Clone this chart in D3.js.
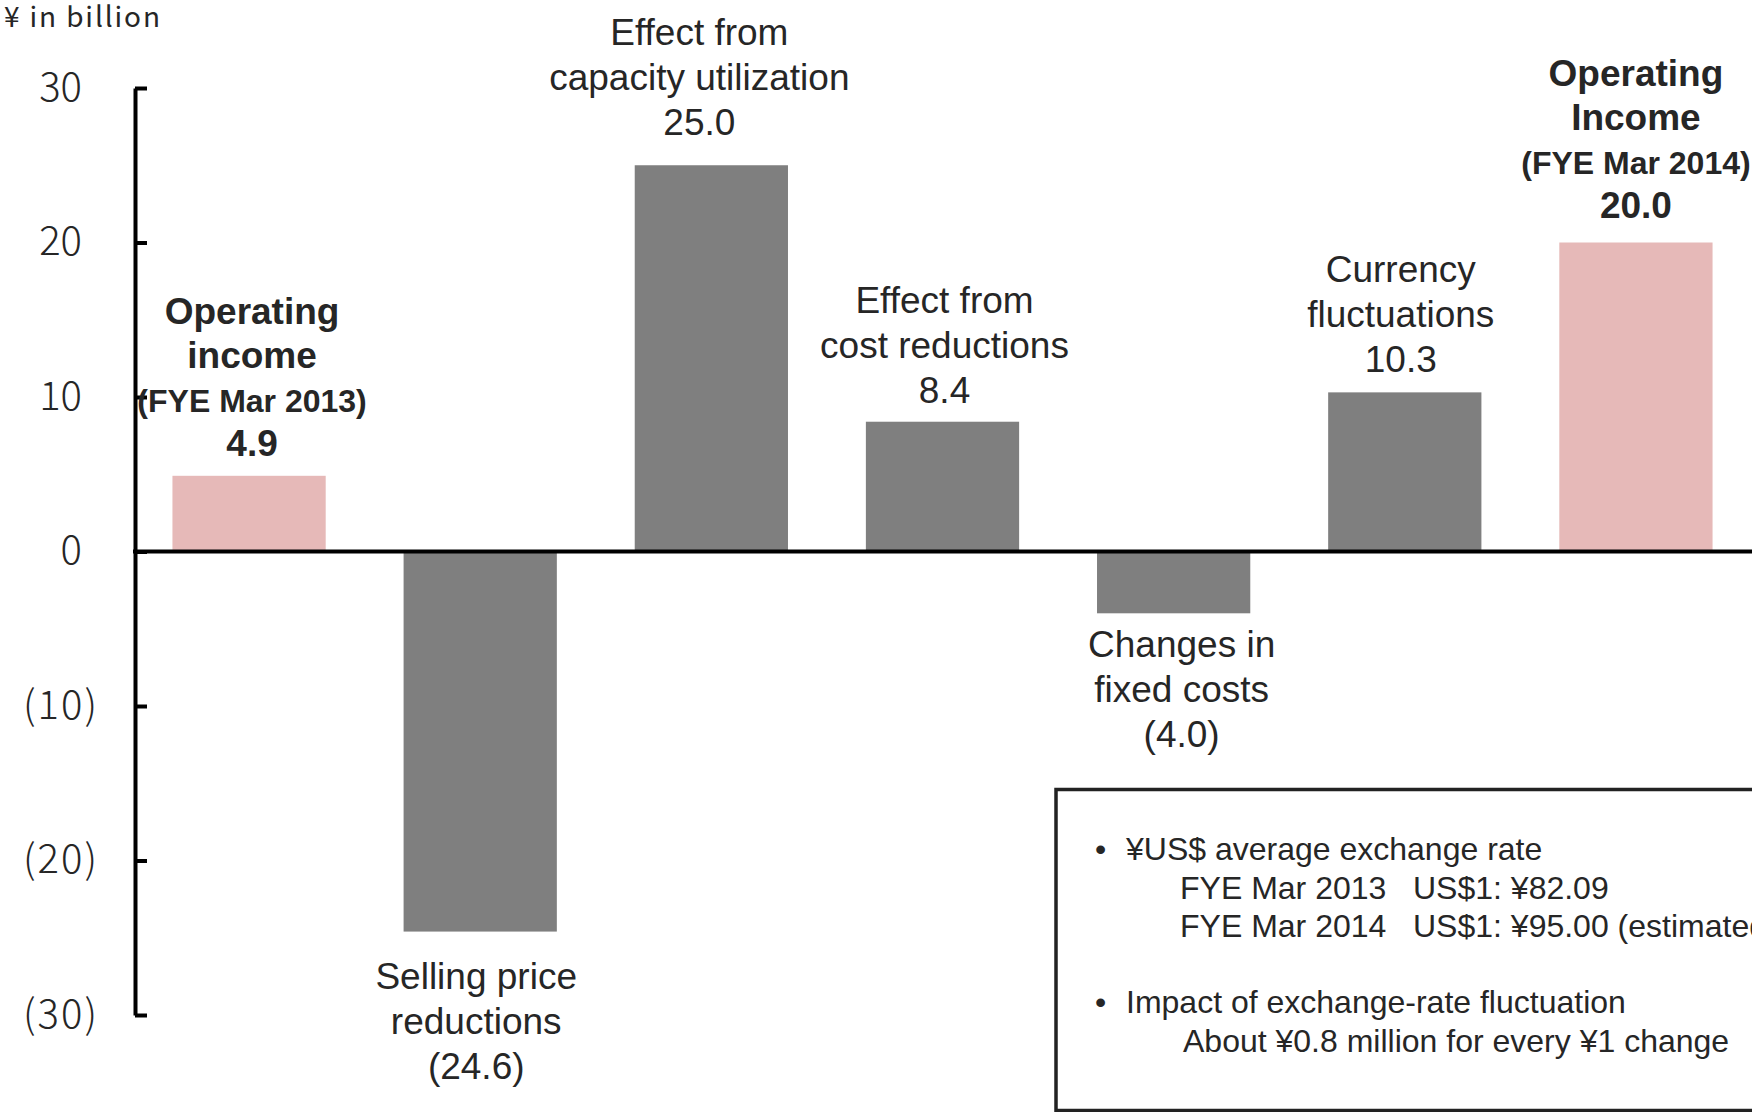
<!DOCTYPE html>
<html>
<head>
<meta charset="utf-8">
<script src="https://cdn.jsdelivr.net/npm/d3@7"></script>
<style>
  html, body { margin: 0; padding: 0; background: #fff; }
  svg { display: block; }
</style>
</head>
<body>
<div id="chart"></div>
<script>
// ---------------- data ----------------
const categories = [
  "Operating income (FYE Mar 2013)",
  "Selling price reductions",
  "Effect from capacity utilization",
  "Effect from cost reductions",
  "Changes in fixed costs",
  "Currency fluctuations",
  "Operating Income (FYE Mar 2014)"
];
const values = [4.9, -24.6, 25.0, 8.4, -4.0, 10.3, 20.0];
const isTotal = [true, false, false, false, false, false, true];
const nameLines = [
  ["Operating", "income", "(FYE Mar 2013)"],
  ["Selling price", "reductions"],
  ["Effect from", "capacity utilization"],
  ["Effect from", "cost reductions"],
  ["Changes in", "fixed costs"],
  ["Currency", "fluctuations"],
  ["Operating", "Income", "(FYE Mar 2014)"]
];
const valueLabels = ["4.9", "(24.6)", "25.0", "8.4", "(4.0)", "10.3", "20.0"];
const tickValues = [30, 20, 10, 0, -10, -20, -30];
const tickLabels = ["30", "20", "10", "0", "(10)", "(20)", "(30)"];
const unitLabel = "¥ in billion";
const noteBullets = ["¥US$ average exchange rate", "Impact of exchange-rate fluctuation"];
const noteRateYears = ["FYE Mar 2013", "FYE Mar 2014"];
const noteRates = ["US$1: ¥82.09", "US$1: ¥95.00 (estimated)"];
const noteImpact = "About ¥0.8 million for every ¥1 change";

// ---------------- layout (not data) ----------------
const W = 1752, H = 1112;
const labelDx = [3, -4, -12, 2, 8, -4, 0];
const labelDy = [0, 13, -10, 1, 0, 0, -5];
const textColor = "#262626";
const labelFont = "'Liberation Sans', Arial, sans-serif";
const axisFont = "'Noto Sans CJK KR', 'Noto Sans', sans-serif";

const svg = d3.select("#chart").append("svg")
  .attr("width", W).attr("height", H)
  .attr("viewBox", `0 0 ${W} ${H}`);

svg.append("rect").attr("width", W).attr("height", H).attr("fill", "#fff");

const axisX = 135;
const y = d3.scaleLinear().domain([-30, 30]).range([1015, 88]);
const x = d3.scaleBand().domain(categories).range([axisX, 1750])
  .paddingInner(0.337).paddingOuter(0.162);

// bars
svg.append("g").selectAll("rect").data(values).join("rect")
  .attr("x", (d, i) => x(categories[i]))
  .attr("width", x.bandwidth())
  .attr("y", d => y(Math.max(0, d)))
  .attr("height", d => Math.abs(y(d) - y(0)))
  .attr("fill", (d, i) => isTotal[i] ? "#E6B9B8" : "#7F7F7F");

// y axis
const yAxis = d3.axisLeft(y)
  .tickValues(tickValues)
  .tickFormat((d, i) => tickLabels[i])
  .tickSizeInner(-12)
  .tickSizeOuter(0)
  .tickPadding(38);

const gAxis = svg.append("g")
  .attr("transform", `translate(${axisX},0)`)
  .call(yAxis);
gAxis.select(".domain").attr("stroke", "#000").attr("stroke-width", 4);
gAxis.selectAll(".tick line").attr("stroke", "#000").attr("stroke-width", 4);
gAxis.selectAll(".tick text")
  .attr("fill", textColor)
  .attr("font-family", axisFont)
  .attr("font-weight", 300)
  .attr("font-size", 40)
  .attr("dy", "0.31em")
  .attr("dx", d => d >= 0 ? -15 : 0)
  .each(function(d) {
    if (d < 0) d3.select(this).attr("textLength", 74).attr("lengthAdjust", "spacing");
  });

// zero line
svg.append("line")
  .attr("x1", axisX - 2).attr("x2", W)
  .attr("y1", y(0)).attr("y2", y(0))
  .attr("stroke", "#000").attr("stroke-width", 4);

// unit label
svg.append("text")
  .attr("x", 4).attr("y", 27)
  .attr("font-family", axisFont)
  .attr("font-weight", 400)
  .attr("font-size", 28)
  .attr("fill", textColor)
  .attr("textLength", 156)
  .attr("lengthAdjust", "spacing")
  .text(unitLabel);

// bar labels
const gLab = svg.append("g").attr("font-family", labelFont).attr("fill", textColor)
  .attr("text-anchor", "middle");

values.forEach((v, i) => {
  const cx = x(categories[i]) + x.bandwidth() / 2 + labelDx[i];
  const lines = nameLines[i].map(t => ({ t, small: /^\(FYE/.test(t) }));
  lines.push({ t: valueLabels[i], small: false });
  const bold = isTotal[i];
  const lh = bold ? 44 : 45;
  const n = lines.length;
  lines.forEach((ln, j) => {
    let by;
    if (v >= 0) {
      const last = y(v) - 20 + labelDy[i];
      by = last - (n - 1 - j) * lh;
    } else {
      const first = y(v) + 44 + labelDy[i];
      by = first + j * lh;
    }
    gLab.append("text")
      .attr("x", cx).attr("y", by)
      .attr("font-size", ln.small ? 32 : 37)
      .attr("font-weight", bold ? "bold" : "normal")
      .text(ln.t);
  });
});

// note box
svg.append("rect")
  .attr("x", 1056).attr("y", 789.5)
  .attr("width", 800).attr("height", 321)
  .attr("fill", "none").attr("stroke", "#222").attr("stroke-width", 3.5);

const gNote = svg.append("g").attr("font-family", labelFont)
  .attr("font-size", 32).attr("fill", textColor);

const bulletY = [860, 1013];
noteBullets.forEach((t, i) => {
  gNote.append("text").attr("x", 1095).attr("y", bulletY[i]).text("•");
  gNote.append("text").attr("x", 1126).attr("y", bulletY[i]).text(t);
});
const rateY = [899, 937];
noteRateYears.forEach((t, i) => {
  gNote.append("text").attr("x", 1180).attr("y", rateY[i]).text(t);
  gNote.append("text").attr("x", 1413).attr("y", rateY[i]).text(noteRates[i]);
});
gNote.append("text").attr("x", 1183).attr("y", 1052).text(noteImpact);
</script>
</body>
</html>
